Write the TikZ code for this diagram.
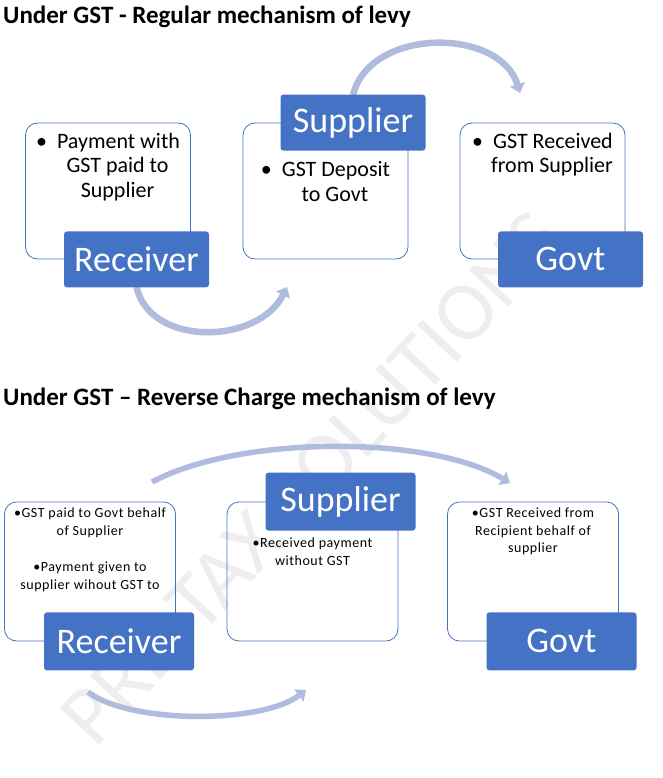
\documentclass[tikz,border=0pt]{standalone}
\usepackage{fontspec}
\setmainfont{Carlito}
\newfontfamily\notefont[LetterSpace=4]{Carlito}
\usetikzlibrary{arrows.meta, positioning}

\definecolor{tagblue}{HTML}{4472C4}
\definecolor{flowblue}{HTML}{AFBCDE}
\newcommand{\bulind}{\hspace*{19pt}}

\begin{document}
\begin{tikzpicture}[
    x=1pt, y=-1pt,
    card/.style={rectangle, rounded corners=12pt, draw=tagblue, line width=0.8pt, minimum width=165pt, minimum height=136pt},
    cardlow/.style={card, minimum width=171pt, minimum height=139pt},
    tag/.style={rectangle, rounded corners=3pt, fill=tagblue, text=white, minimum width=145pt, minimum height=56pt, inner sep=0pt, font=\fontsize{36}{40}\selectfont},
    taglow/.style={tag, minimum width=150pt, minimum height=58pt},
    note/.style={align=center, inner sep=0pt, font=\fontsize{22}{24.5}\selectfont},
    notelow/.style={align=center, inner sep=0pt, font=\notefont\fontsize{14}{17.5}\selectfont},
    flow/.style={draw=flowblue, line width=6.5pt, -{Triangle[length=9pt,width=15pt]}},
    flowlow/.style={flow, line width=5.5pt},
    heading/.style={anchor=base west, inner sep=0pt, font=\bfseries\fontsize{25}{28}\selectfont},
    watermark/.style={text=gray!13, inner sep=0pt, font=\fontsize{84}{90}\selectfont}
]
    \path[use as bounding box, fill=white] (0,0) rectangle (662,778);

    % Watermark
    \node[watermark, rotate=47] (wmark) at (312,478) {PRE-TAX SOLUTIONS};

    % Regular mechanism
    \node[heading] (head1) at (3,23.5) {Under GST - Regular mechanism of levy};

    \node[card] (rcard1) at (108,191) {};
    \node[card] (scard1) at (325.5,191) {};
    \node[card] (gcard1) at (542.5,191) {};

    \node[note, below=10pt of rcard1.north] (rnote1) {\textbullet\hspace{10pt}Payment with\\\bulind GST paid to\\\bulind Supplier};
    \node[note, below=39pt of scard1.north] (snote1) {\textbullet\hspace{10pt}GST Deposit\\\bulind to Govt};
    \node[note, below=10pt of gcard1.north] (gnote1) {\textbullet\hspace{10pt}GST Received\\\bulind from Supplier};

    \coordinate (gin1) at (520,93);
    \coordinate (sin1) at (287,287);
    \draw[flow] (353,95) .. controls (370,27) and (500,27) .. (gin1);
    \draw[flow] (136.5,287) .. controls (150,347) and (258,345) .. (sin1);

    \node[tag, xshift=28.5pt] (rtag1) at (rcard1.south) {Receiver};
    \node[tag, xshift=27.5pt] (stag1) at (scard1.north) {Supplier};
    \node[tag, xshift=28pt] (gtag1) at (gcard1.south) {Govt};

    % Reverse charge mechanism
    \node[heading] (head2) at (3,405) {Under GST \textendash{} Reverse Charge mechanism of levy};

    \node[cardlow] (rcard2) at (90,571.5) {};
    \node[cardlow] (scard2) at (312.5,571.5) {};
    \node[cardlow] (gcard2) at (533,571.5) {};

    \node[notelow, below=6pt of rcard2.north] (rnote2) {\textbullet GST paid to Govt behalf\\of Supplier\\[19pt]\textbullet Payment given to\\supplier wihout GST to};
    \node[notelow, below=36pt of scard2.north] (snote2) {\textbullet Received payment\\without GST};
    \node[notelow, below=6pt of gcard2.north] (gnote2) {\textbullet GST Received from\\Recipient behalf of\\supplier};

    \coordinate (rout2) at (152,482);
    \coordinate (gin2) at (510,483);
    \coordinate (rout3) at (88,692);
    \coordinate (sin2) at (306,690);
    \draw[flowlow] (rout2) .. controls (240,435) and (430,435) .. (gin2);
    \draw[flowlow] (rout3) .. controls (130,724) and (262,724) .. (sin2);

    \node[taglow, xshift=29pt] (rtag2) at (rcard2.south) {Receiver};
    \node[taglow, xshift=28pt] (stag2) at (scard2.north) {Supplier};
    \node[taglow, xshift=28.5pt] (gtag2) at (gcard2.south) {Govt};

\end{tikzpicture}
\end{document}
